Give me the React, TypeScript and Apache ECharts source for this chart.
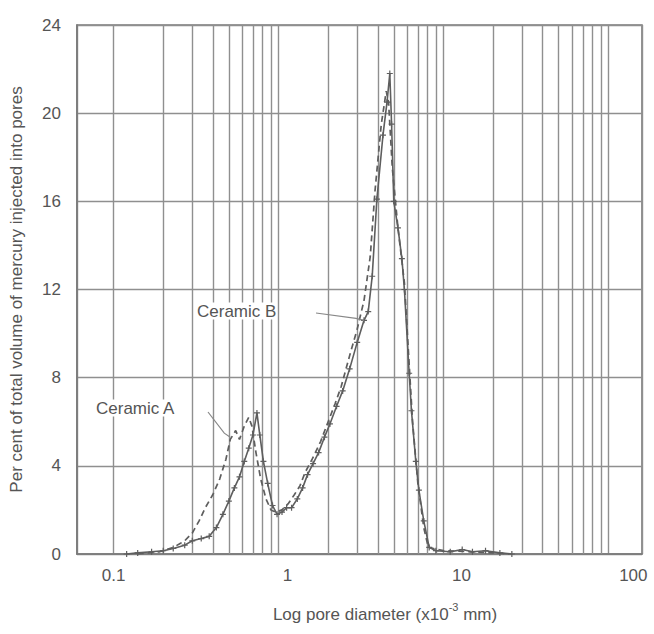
import React, { useEffect, useRef } from 'react';
import * as echarts from 'echarts';

// Ceramic A (dashed curve): [pore diameter (x10^-3 mm), per cent]
const ceramicA: [number, number][] = [
  [0.14, 0], [0.16, 0.05], [0.19, 0.1], [0.21, 0.2], [0.23, 0.3], [0.25, 0.45],
  [0.27, 0.6], [0.3, 0.95], [0.33, 1.5], [0.36, 2.1], [0.4, 2.7], [0.44, 3.4],
  [0.48, 4.3], [0.51, 5.2], [0.55, 5.6], [0.58, 5.2], [0.62, 5.8], [0.66, 6.2],
  [0.69, 5.8], [0.73, 4.6], [0.78, 3.4], [0.84, 2.5], [0.9, 2.0], [0.96, 1.9],
  [1.05, 2.0], [1.15, 2.3], [1.25, 2.7], [1.35, 3.1], [1.45, 3.7], [1.6, 4.3],
  [1.8, 5.1], [2.0, 6.0], [2.2, 6.8], [2.4, 7.6], [2.7, 9.0], [3.0, 10.2],
  [3.3, 11.5], [3.6, 13.5], [3.85, 16.5], [4.2, 19.5], [4.5, 21.0], [4.65, 20.5],
  [4.9, 17.5], [5.3, 14.8], [5.8, 12.3], [6.2, 8.6], [6.5, 6.0], [7.0, 3.2],
  [7.6, 1.2], [8.1, 0.3], [10, 0.15], [15, 0.1], [20, 0.05], [25, 0],
];

// Ceramic B (solid curve with + markers)
const ceramicB: [number, number][] = [
  [0.12, 0], [0.14, 0.05], [0.17, 0.1], [0.2, 0.15], [0.23, 0.25], [0.27, 0.4],
  [0.3, 0.6], [0.34, 0.7], [0.38, 0.8], [0.42, 1.2], [0.46, 1.8], [0.5, 2.4],
  [0.54, 3.0], [0.58, 3.5], [0.62, 4.2], [0.66, 4.8], [0.7, 5.4], [0.74, 6.4],
  [0.77, 5.4], [0.81, 4.2], [0.86, 3.2], [0.92, 2.2], [0.98, 1.8], [1.05, 1.9],
  [1.12, 2.1], [1.2, 2.1], [1.3, 2.5], [1.4, 3.0], [1.5, 3.6], [1.62, 4.1],
  [1.75, 4.6], [1.9, 5.3], [2.05, 5.9], [2.25, 6.7], [2.45, 7.4], [2.7, 8.4],
  [3.0, 9.6], [3.3, 10.6], [3.5, 11.0], [3.7, 12.6], [3.95, 16.1], [4.3, 19.0],
  [4.55, 20.5], [4.73, 21.8], [4.85, 19.5], [5.0, 16.0], [5.3, 14.8], [5.6, 13.4],
  [5.8, 12.0], [6.2, 8.2], [6.4, 6.5], [6.8, 4.2], [7.1, 2.9], [7.6, 1.5],
  [8.2, 0.3], [9, 0.15], [11, 0.1], [13, 0.2], [15, 0.1], [18, 0.15], [22, 0.05],
  [26, 0],
];

// Minor (intermediate) vertical grid values of the log axis
const minorX: number[] = [
  0.2, 0.3, 0.4, 0.5, 0.6, 0.7, 0.8, 0.9,
  2, 3, 4, 5, 6, 7, 8, 9,
  20, 30, 40, 50, 60, 70, 80, 90,
];

// Decade tick labels, keyed by exponent
const xTickLabels: Record<string, string> = { '-1': '0.1', '0': '1', '1': '10', '2': '100' };
const yTicks = { min: 0, max: 24, interval: 4 };
const xRange = { min: 0.06, max: 160 };

const labelA = 'Ceramic A';
const labelB = 'Ceramic B';
const leaderA: [number, number] = [0.51, 5.3];
const leaderB: [number, number] = [3.3, 10.6];

const FONT = '"Liberation Sans", Arial, Helvetica, sans-serif';
const TEXT = '#555';
const GRID = '#8f8f8f';
const CURVE = '#5e5e5e';

export default function App() {
  const ref = useRef<HTMLDivElement>(null);
  useEffect(() => {
    const chart = echarts.init(ref.current!, null, { renderer: 'svg' });
    chart.setOption({
      animation: false,
      backgroundColor: '#fff',
      textStyle: { fontFamily: FONT },
      grid: {
        left: 74, right: 12, top: 25, bottom: 80,
        show: true, borderColor: '#7a7a7a', borderWidth: 1.6,
      },
      xAxis: {
        type: 'log',
        logBase: 10,
        min: xRange.min,
        max: xRange.max,
        axisLine: { show: true, lineStyle: { color: '#7a7a7a', width: 1.6 } },
        axisTick: { show: false },
        splitLine: { show: true, lineStyle: { color: GRID, width: 1.4 } },
        axisLabel: {
          margin: 13,
          fontSize: 17,
          color: TEXT,
          fontFamily: FONT,
          showMinLabel: false,
          showMaxLabel: false,
          formatter: (v: number) => {
            const e = Math.log10(v);
            const r = Math.round(e);
            if (Math.abs(e - r) > 1e-6) return '';
            const t = xTickLabels[String(r)];
            if (!t) return '';
            return `{t${r + 1}|${t}}`;
          },
          rich: {
            t0: { fontSize: 17, color: TEXT, fontFamily: FONT },
            t1: { fontSize: 17, color: TEXT, fontFamily: FONT, padding: [0, 0, 0, 18] },
            t2: { fontSize: 17, color: TEXT, fontFamily: FONT, padding: [0, 0, 0, 36] },
            t3: { fontSize: 17, color: TEXT, fontFamily: FONT, padding: [0, 0, 0, 50] },
          },
        },
      },
      yAxis: {
        type: 'value',
        min: yTicks.min,
        max: yTicks.max,
        interval: yTicks.interval,
        name: 'Per cent of total volume of mercury injected into pores',
        nameLocation: 'middle',
        nameGap: 52,
        nameTextStyle: { fontSize: 17, color: TEXT, fontFamily: FONT },
        axisLine: { show: true, lineStyle: { color: '#7a7a7a', width: 1.6 } },
        axisTick: { show: false },
        splitLine: { show: true, lineStyle: { color: GRID, width: 1.4 } },
        axisLabel: { margin: 16, fontSize: 17, color: TEXT, fontFamily: FONT },
      },
      series: [
        {
          name: labelA,
          type: 'line',
          data: ceramicA,
          showSymbol: false,
          symbol: 'none',
          lineStyle: { color: CURVE, width: 1.7, type: [6, 4] },
          z: 3,
          markLine: {
            silent: true,
            symbol: ['none', 'none'],
            label: { show: false },
            lineStyle: { color: GRID, width: 1.4, type: 'solid' },
            data: minorX.map((v) => ({ xAxis: v })),
            z: 1,
          },
        },
        {
          name: labelB,
          type: 'line',
          data: ceramicB,
          symbol: 'path://M4,0H6V4H10V6H6V10H4V6H0V4H4Z',
          symbolSize: 6,
          itemStyle: { color: CURVE },
          lineStyle: { color: CURVE, width: 1.6 },
          z: 4,
        },
      ],
    });

    const pA = chart.convertToPixel({ xAxisIndex: 0, yAxisIndex: 0 }, leaderA) as number[];
    const pB = chart.convertToPixel({ xAxisIndex: 0, yAxisIndex: 0 }, leaderB) as number[];

    chart.setOption({
      graphic: [
        {
          type: 'text', x: 96, y: 408, z: 10,
          style: { text: labelA, fontSize: 17, fill: TEXT, fontFamily: FONT, textVerticalAlign: 'middle', verticalAlign: 'middle', backgroundColor: '#fff' },
        },
        {
          type: 'text', x: 197, y: 311, z: 10,
          style: { text: labelB, fontSize: 17, fill: TEXT, fontFamily: FONT, textVerticalAlign: 'middle', verticalAlign: 'middle', backgroundColor: '#fff' },
        },
        {
          type: 'polyline', z: 10,
          shape: { points: [[208, 412], [pA[0] - 6, pA[1] - 4], [pA[0], pA[1]]] },
          style: { stroke: '#888', lineWidth: 1.2, fill: 'none' },
        },
        {
          type: 'polyline', z: 10,
          shape: { points: [[316, 313], [pB[0] - 8, pB[1] - 2], [pB[0], pB[1]]] },
          style: { stroke: '#888', lineWidth: 1.2, fill: 'none' },
        },
        {
          type: 'text', x: 385, y: 612, z: 10,
          style: {
            text: '{a|Log pore diameter (x10}{s|-3}{a| mm)}',
            align: 'center',
            verticalAlign: 'middle',
            rich: {
              a: { fontSize: 17, fill: TEXT, fontFamily: FONT, lineHeight: 22, verticalAlign: 'bottom' },
              s: { fontSize: 11, fill: TEXT, fontFamily: FONT, lineHeight: 22, verticalAlign: 'top' },
            },
          },
        },
      ],
    });

    return () => chart.dispose();
  }, []);
  return <div ref={ref} style={{ position: 'fixed', left: 0, top: 0, width: 654, height: 634 }} />;
}
